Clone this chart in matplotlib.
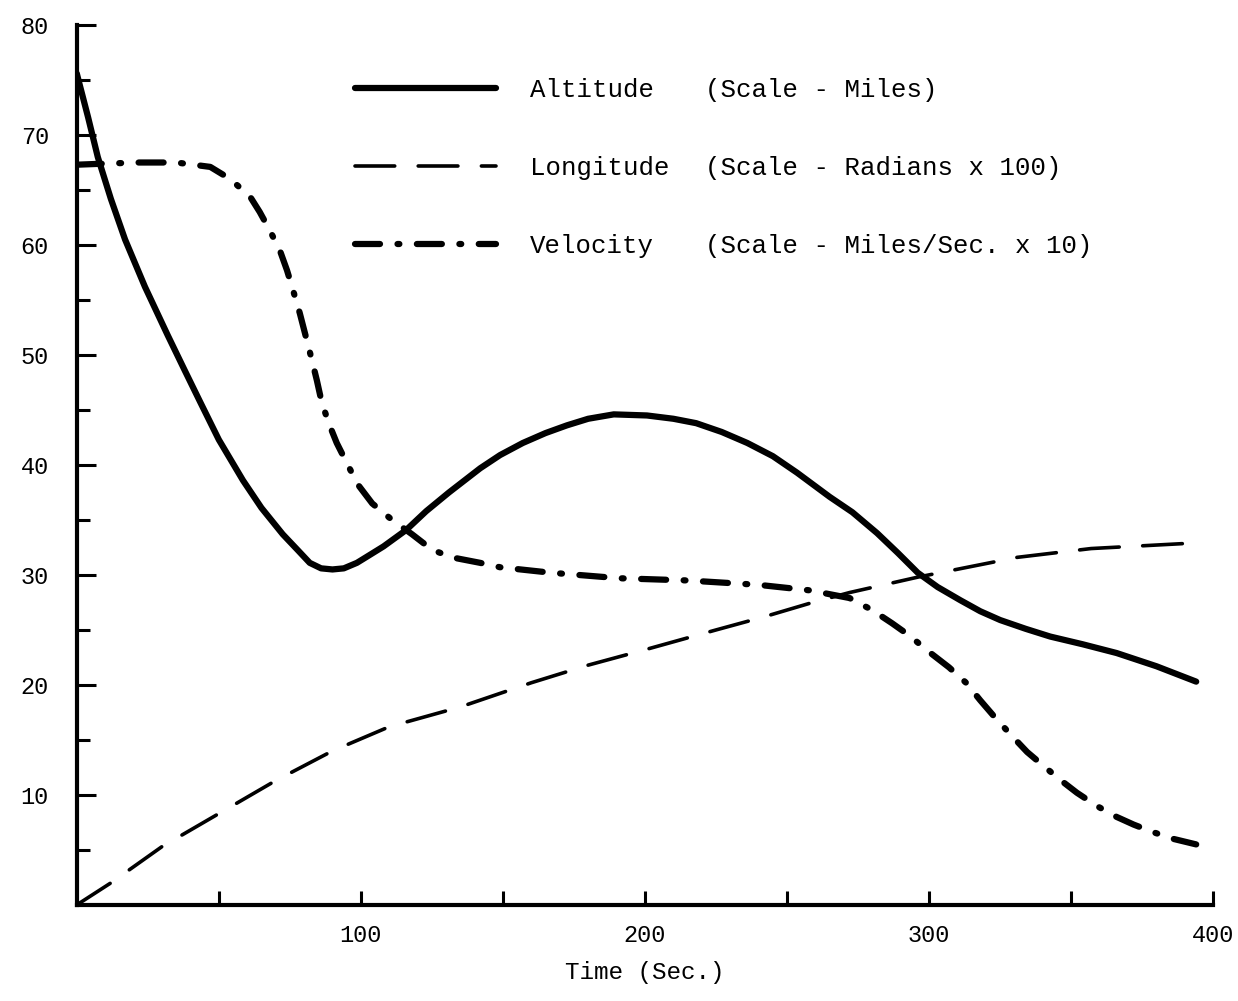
import matplotlib
matplotlib.use('Agg')
import matplotlib.pyplot as plt

# values
t_alt = [0, 4, 7.4, 12, 17, 24, 32, 38, 43.3, 50, 58.5, 65, 72.5, 78, 82, 86, 90, 94, 98.6,
         103, 108, 116, 123, 131, 142, 149, 157, 165, 172.5, 180, 189, 200.7, 210, 218, 227,
         236, 245, 253.5, 265, 273, 281.7, 289, 296, 303, 311, 318, 325, 334, 342.6, 354,
         366, 380, 394]
altitude = [75.6, 71.6, 68, 64.2, 60.5, 56.2, 51.8, 48.6, 45.8, 42.3, 38.6, 36.1, 33.7, 32.2,
            31.1, 30.6, 30.5, 30.6, 31.1, 31.8, 32.6, 34.1, 35.8, 37.5, 39.7, 40.9, 42, 42.9,
            43.6, 44.2, 44.6, 44.5, 44.2, 43.8, 43, 42, 40.8, 39.3, 37.1, 35.7, 33.8, 32,
            30.2, 28.9, 27.7, 26.7, 25.9, 25.1, 24.4, 23.7, 22.9, 21.7, 20.3]

t_lon = [0, 12, 30, 50, 70, 90, 110, 135, 160, 180, 200, 225, 242, 259, 272, 296, 331,
         357, 393]
longitude = [0, 2, 5.3, 8.3, 11.3, 14, 16.2, 18, 20.2, 21.8, 23.2, 25, 26.2, 27.5, 28.4,
             29.8, 31.6, 32.4, 32.9]

t_vel = [0, 10, 22, 35, 47, 54, 61, 64.4, 68, 71.5, 74, 76, 78.5, 80.3, 82.5, 84.5, 86.3,
         89, 91.5, 95, 99, 104, 111, 118, 125, 132, 142, 149, 167, 191, 215, 240, 258, 264,
         272, 280, 287, 293, 300, 307, 313, 318, 323, 329, 334.5, 340, 346, 352, 359, 366,
         372, 379, 386, 394]
velocity = [67.3, 67.4, 67.5, 67.5, 67.1, 66, 64.4, 63, 61.3, 59.5, 57.7, 56, 53.8, 52,
            49.8, 47.7, 45.6, 43.6, 42, 40.2, 38.2, 36.5, 35, 33.7, 32.3, 31.6, 31.1, 30.7,
            30.2, 29.7, 29.5, 29.1, 28.6, 28.3, 27.9, 26.8, 25.6, 24.5, 23, 21.6, 20.2, 18.6,
            17.1, 15.4, 13.9, 12.7, 11.4, 10.2, 9, 8, 7.3, 6.6, 6, 5.5]

names = ['Altitude', 'Longitude', 'Velocity']
scales = ['(Scale - Miles)', '(Scale - Radians x 100)', '(Scale - Miles/Sec. x 10)']

x_major = [100, 200, 300, 400]
x_minor = [50, 150, 250, 350]
y_major = [10, 20, 30, 40, 50, 60, 70, 80]
y_minor = [5, 15, 25, 35, 45, 55, 65, 75]

plt.rcParams['font.family'] = ['Liberation Mono', 'DejaVu Sans']

fig = plt.figure(figsize=(12.38, 10.01), dpi=100)
ax = fig.add_axes([0.062, 0.096, 0.918, 0.879])

ax.plot(t_alt, altitude, color='black', lw=4.5, solid_capstyle='round',
        solid_joinstyle='round', label=names[0])
ax.plot(t_lon, longitude, color='black', lw=2.6, dashes=(11, 6.5), dash_capstyle='round',
        label=names[1])
ax.plot(t_vel, velocity, color='black', lw=4.5, dashes=(4, 2.8, 0.3, 2.8),
        dash_capstyle='round', label=names[2])

ax.set_xlim(0, 400)
ax.set_ylim(0, 80)
ax.set_xticks(x_major)
ax.set_xticks(x_minor, minor=True)
ax.set_yticks(y_major)
ax.set_yticks(y_minor, minor=True)
ax.tick_params(which='both', direction='in', width=2.2, labelsize=17)
ax.tick_params(axis='y', which='major', length=14, pad=20)
ax.tick_params(axis='y', which='minor', length=9)
ax.tick_params(axis='x', which='both', length=10, pad=14)

for s in ['top', 'right']:
    ax.spines[s].set_visible(False)
for s in ['left', 'bottom']:
    ax.spines[s].set_linewidth(3)

ax.set_xlabel('Time (Sec.)', fontsize=17.5, labelpad=10)

leg = ax.legend(loc='upper left', bbox_to_anchor=(355 / 1238, 1 - 78 / 1001),
                bbox_transform=fig.transFigure, frameon=False, fontsize=18.5,
                handlelength=5.5, handletextpad=1.3, labelspacing=2.1,
                borderpad=0, borderaxespad=0)

# scale notes next to the legend names
fig.canvas.draw()
inv = fig.transFigure.inverted()
for txt, sc in zip(leg.get_texts(), scales):
    bb = txt.get_window_extent()
    y = inv.transform((0, (bb.y0 + bb.y1) / 2))[1]
    fig.text(705 / 1238, y, sc, fontsize=18.5, va='center', ha='left')

fig.savefig('out.png', dpi=100)
